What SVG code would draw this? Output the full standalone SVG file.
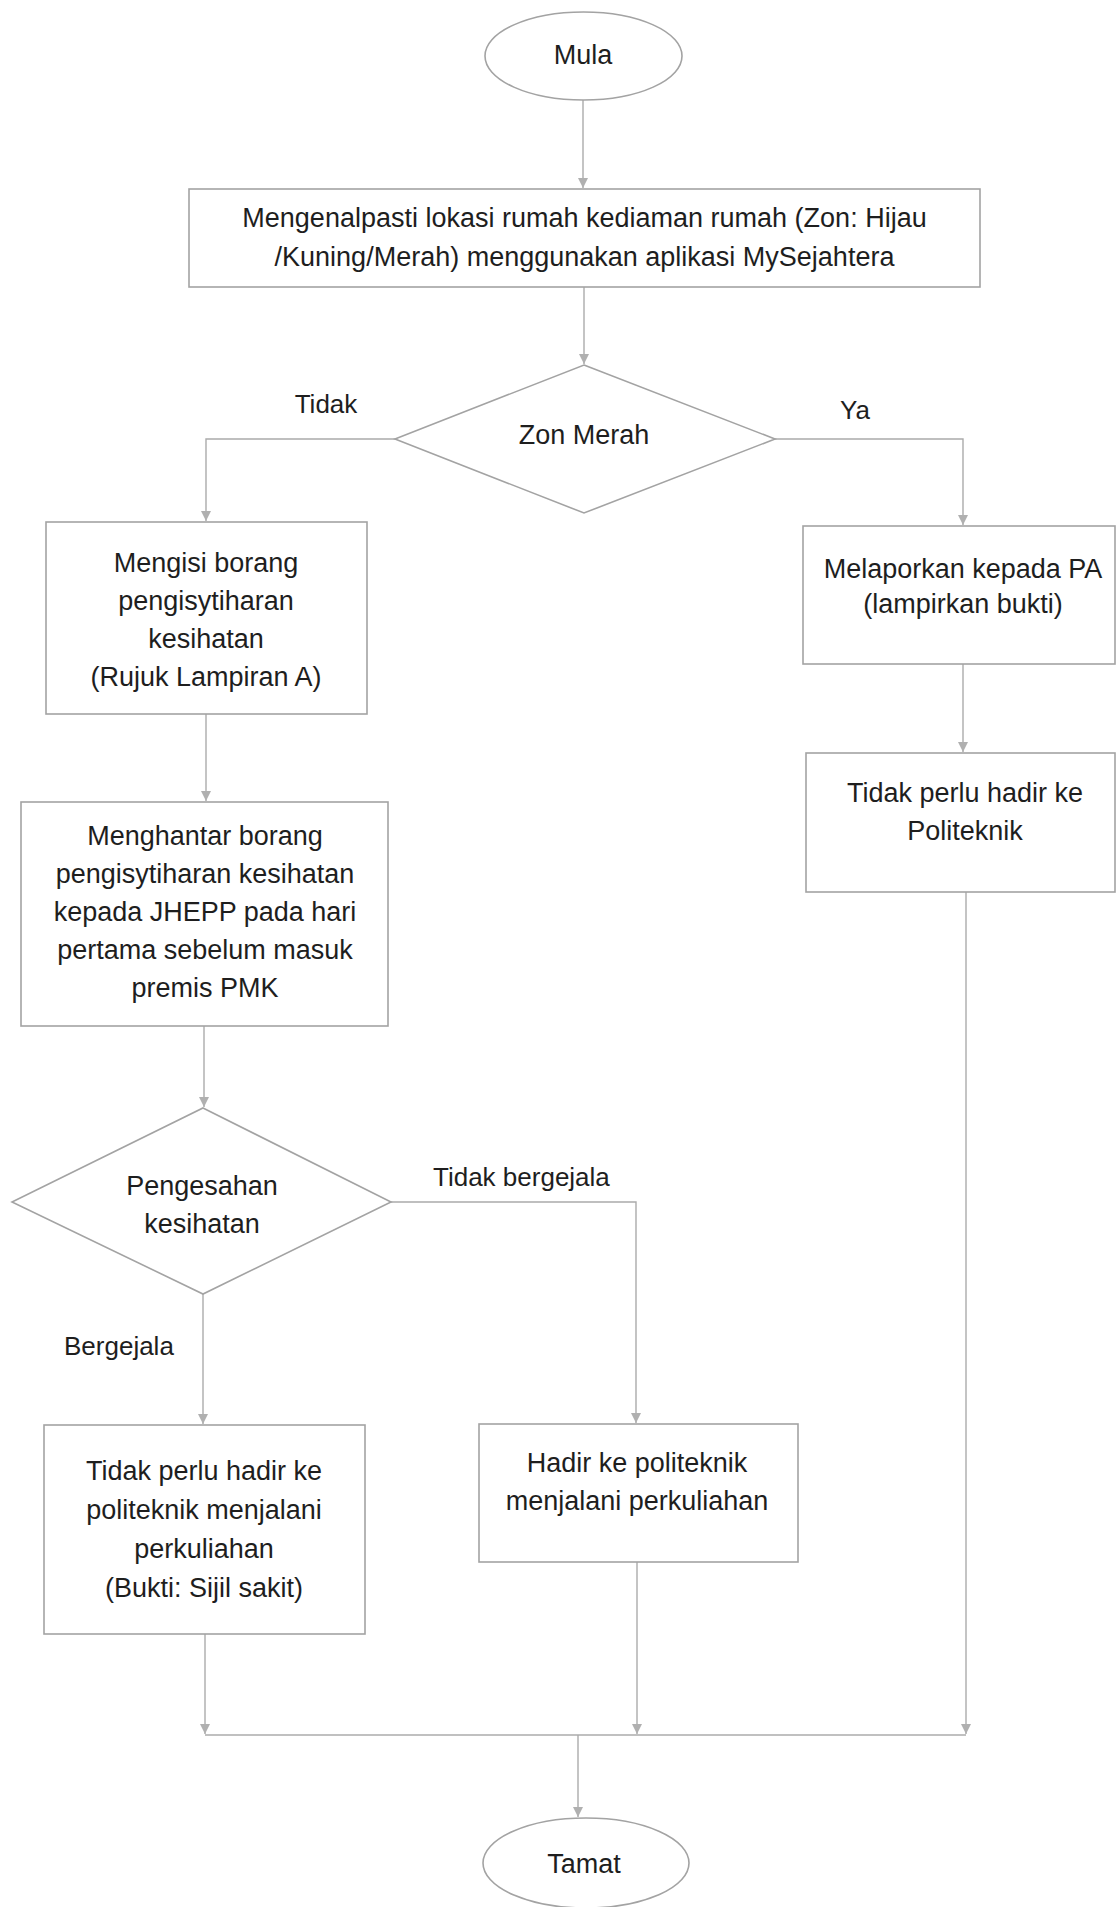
<svg xmlns="http://www.w3.org/2000/svg" width="1117" height="1907" viewBox="0 0 1117 1907">
<style>
.shape{fill:#fff;stroke:#a3a3a3;stroke-width:1.6}
.conn{fill:none;stroke:#ababab;stroke-width:1.4}
text{font-family:"Liberation Sans",Arial,sans-serif;font-size:27px;fill:#1e1e1e;text-anchor:middle}
.lbl{font-size:26px}
.start{text-anchor:start}
</style>
<defs>
<marker id="arr" markerUnits="userSpaceOnUse" markerWidth="10" markerHeight="11" refX="10" refY="5" orient="auto">
<path d="M0,0 L10,5 L0,10 z" fill="#b0b0b0"/>
</marker>
</defs>
<rect width="1117" height="1907" fill="#fff"/>
<g id="connectors">
<path class="conn" d="M583,100 V188" marker-end="url(#arr)"/>
<path class="conn" d="M584,287 V364" marker-end="url(#arr)"/>
<path class="conn" d="M395,439 H206 V521" marker-end="url(#arr)"/>
<path class="conn" d="M775,439 H963 V525" marker-end="url(#arr)"/>
<path class="conn" d="M963,664 V752" marker-end="url(#arr)"/>
<path class="conn" d="M206,714 V801" marker-end="url(#arr)"/>
<path class="conn" d="M204,1026 V1107" marker-end="url(#arr)"/>
<path class="conn" d="M391,1202 H636 V1423" marker-end="url(#arr)"/>
<path class="conn" d="M203,1294 V1424" marker-end="url(#arr)"/>
<path class="conn" d="M205,1634 V1734" marker-end="url(#arr)"/>
<path class="conn" d="M637,1562 V1734" marker-end="url(#arr)"/>
<path class="conn" d="M966,892 V1734" marker-end="url(#arr)"/>
<path class="conn" d="M205,1735 H966"/>
<path class="conn" d="M578,1735 V1817" marker-end="url(#arr)"/>
</g>
<g id="lbl-tidak"><text class="lbl" x="326" y="413">Tidak</text></g>
<g id="lbl-ya"><text class="lbl" x="855" y="419">Ya</text></g>
<g id="lbl-tidak-bergejala"><text class="lbl start" x="433" y="1186">Tidak bergejala</text></g>
<g id="lbl-bergejala"><text class="lbl start" x="64" y="1355">Bergejala</text></g>
<g id="mula">
<ellipse class="shape" cx="583.5" cy="56" rx="98.5" ry="44"/>
<text x="583" y="64">Mula</text>
</g>
<g id="kenalpasti">
<rect class="shape" x="189" y="189" width="791" height="98"/>
<text x="584.5" y="227">Mengenalpasti lokasi rumah kediaman rumah (Zon: Hijau</text>
<text x="584.5" y="266">/Kuning/Merah) menggunakan aplikasi MySejahtera</text>
</g>
<g id="zon-merah">
<polygon class="shape" points="584,365 775,439 584,513 395,439"/>
<text x="584" y="444">Zon Merah</text>
</g>
<g id="mengisi">
<rect class="shape" x="46" y="522" width="321" height="192"/>
<text x="206" y="572">Mengisi borang</text>
<text x="206" y="610">pengisytiharan</text>
<text x="206" y="648">kesihatan</text>
<text x="206" y="686">(Rujuk Lampiran A)</text>
</g>
<g id="melaporkan">
<rect class="shape" x="803" y="526" width="312" height="138"/>
<text x="963" y="578">Melaporkan kepada PA</text>
<text x="963" y="613">(lampirkan bukti)</text>
</g>
<g id="tidak-hadir-politeknik">
<rect class="shape" x="806" y="753" width="309" height="139"/>
<text x="965" y="802">Tidak perlu hadir ke</text>
<text x="965" y="840">Politeknik</text>
</g>
<g id="menghantar">
<rect class="shape" x="21" y="802" width="367" height="224"/>
<text x="205" y="845">Menghantar borang</text>
<text x="205" y="883">pengisytiharan kesihatan</text>
<text x="205" y="921">kepada JHEPP pada hari</text>
<text x="205" y="959">pertama sebelum masuk</text>
<text x="205" y="997">premis PMK</text>
</g>
<g id="pengesahan">
<polygon class="shape" points="203,1108 391,1202 203,1294 12,1202"/>
<text x="202" y="1195">Pengesahan</text>
<text x="202" y="1233">kesihatan</text>
</g>
<g id="tidak-hadir-sakit">
<rect class="shape" x="44" y="1425" width="321" height="209"/>
<text x="204" y="1480">Tidak perlu hadir ke</text>
<text x="204" y="1519">politeknik menjalani</text>
<text x="204" y="1558">perkuliahan</text>
<text x="204" y="1597">(Bukti: Sijil sakit)</text>
</g>
<g id="hadir">
<rect class="shape" x="479" y="1424" width="319" height="138"/>
<text x="637" y="1472">Hadir ke politeknik</text>
<text x="637" y="1510">menjalani perkuliahan</text>
</g>
<g id="tamat">
<ellipse class="shape" cx="586" cy="1863" rx="103" ry="45"/>
<text x="584" y="1873">Tamat</text>
</g>
</svg>
